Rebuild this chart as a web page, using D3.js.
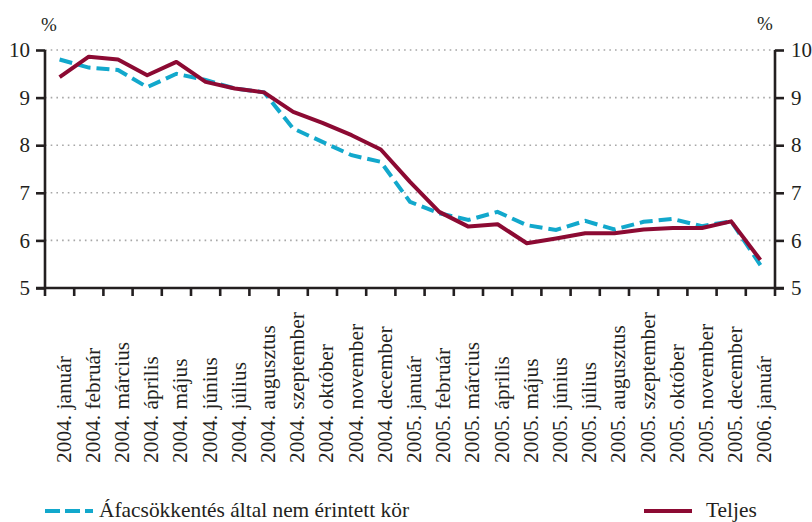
<!DOCTYPE html>
<html>
<head>
<meta charset="utf-8">
<script src="https://cdn.jsdelivr.net/npm/d3@7"></script>
</head>
<body style="margin:0;padding:0;background:#fff">
<svg id="chart" width="812" height="522" style="display:block"></svg>
<script>
const categories = [
  "2004. január", "2004. február", "2004. március", "2004. április", "2004. május",
  "2004. június", "2004. július", "2004. augusztus", "2004. szeptember", "2004. október",
  "2004. november", "2004. december", "2005. január", "2005. február", "2005. március",
  "2005. április", "2005. május", "2005. június", "2005. július", "2005. augusztus",
  "2005. szeptember", "2005. október", "2005. november", "2005. december", "2006. január"
];
const seriesNames = ["Áfacsökkentés által nem érintett kör", "Teljes"];
const nemErintett = [9.80, 9.63, 9.58, 9.22, 9.50, 9.37, 9.19, 9.11, 8.35, 8.07,
  7.79, 7.65, 6.81, 6.57, 6.43, 6.60, 6.32, 6.22, 6.41, 6.23,
  6.39, 6.45, 6.30, 6.40, 5.48];
const teljes = [9.43, 9.86, 9.80, 9.47, 9.75, 9.33, 9.19, 9.11, 8.70, 8.47,
  8.21, 7.91, 7.23, 6.60, 6.29, 6.34, 5.94, 6.04, 6.15, 6.15,
  6.23, 6.26, 6.26, 6.40, 5.59];
const yTicks = [5, 6, 7, 8, 9, 10];
const unitLabel = "%";

(function () {
const FONT = "Liberation Serif";
const INK = "#231f20";
const svg = d3.select("#chart");
const pL = 45, pR = 775, pT = 50, pB = 288;
const FS = 21.4;
const styleText = sel => sel.style("font-family", FONT).style("fill", INK);

const x = d3.scaleBand().domain(categories).range([pL, pR]).padding(0);
const y = d3.scaleLinear().domain([5, 10]).range([pB, pT]);
const cx = d => x(d) + x.bandwidth() / 2;

// grid
svg.append("g").selectAll("line").data(yTicks.filter(v => v > 5)).join("line")
  .attr("x1", pL).attr("x2", pR)
  .attr("y1", d => y(d)).attr("y2", d => y(d))
  .attr("stroke", "#a7a7a7").attr("stroke-width", 1.6)
  .attr("stroke-dasharray", "1.6,4.1");

// left axis
const axL = d3.axisLeft(y).tickValues(yTicks).tickSize(9).tickPadding(6).tickFormat(d3.format("d"));
const gL = svg.append("g").attr("transform", `translate(${pL},0)`).call(axL);
// right axis
const axR = d3.axisRight(y).tickValues(yTicks).tickSize(9).tickPadding(7).tickFormat(d3.format("d"));
const gR = svg.append("g").attr("transform", `translate(${pR},0)`).call(axR);
[gL, gR].forEach(g => {
  g.select(".domain").attr("stroke", INK).attr("stroke-width", 2.6).attr("d", `M0,${pT}V${pB}`);
  g.selectAll(".tick line").attr("stroke", INK).attr("stroke-width", 2.6);
  g.selectAll(".tick text").style("font-size", "21px").call(styleText);
});

// bottom axis
const boundaries = d3.range(categories.length + 1).map(i => pL + i * x.bandwidth());
const gB = svg.append("g");
gB.append("line").attr("x1", pL - 9).attr("x2", pR + 9).attr("y1", pB).attr("y2", pB)
  .attr("stroke", INK).attr("stroke-width", 2.6);
gB.selectAll("line.t").data(boundaries).join("line").attr("class", "t")
  .attr("x1", d => d).attr("x2", d => d).attr("y1", pB).attr("y2", pB + 8)
  .attr("stroke", INK).attr("stroke-width", 2.6);

// category labels
svg.append("g").selectAll("text").data(categories).join("text")
  .attr("transform", d => `translate(${cx(d) + 11},463) rotate(-90)`)
  .attr("text-anchor", "start")
  .style("font-size", FS + "px")
  .call(styleText)
  .text(d => d);

// unit labels
svg.append("text").attr("x", 41).attr("y", 31).style("font-size", "19px").call(styleText).text(unitLabel);
svg.append("text").attr("x", 757).attr("y", 30).style("font-size", "19px").call(styleText).text(unitLabel);

// lines
const line = d3.line().x((d, i) => cx(categories[i])).y(d => y(d));
svg.append("path").datum(nemErintett).attr("d", line)
  .attr("fill", "none").attr("stroke", "#12a8cc").attr("stroke-width", 4)
  .attr("stroke-dasharray", "13,6");
svg.append("path").datum(teljes).attr("d", line)
  .attr("fill", "none").attr("stroke", "#8c0a33").attr("stroke-width", 4)
  .attr("stroke-linejoin", "round");

// legend
const lg = svg.append("g");
lg.append("line").attr("x1", 45).attr("x2", 93).attr("y1", 511).attr("y2", 511)
  .attr("stroke", "#12a8cc").attr("stroke-width", 4).attr("stroke-dasharray", "15,5");
lg.append("text").attr("x", 99).attr("y", 517).style("font-size", FS + "px").call(styleText).text(seriesNames[0]);
lg.append("line").attr("x1", 644).attr("x2", 692).attr("y1", 511).attr("y2", 511)
  .attr("stroke", "#8c0a33").attr("stroke-width", 4);
lg.append("text").attr("x", 706).attr("y", 517).style("font-size", FS + "px").call(styleText).text(seriesNames[1]);
})();
</script>
</body>
</html>
